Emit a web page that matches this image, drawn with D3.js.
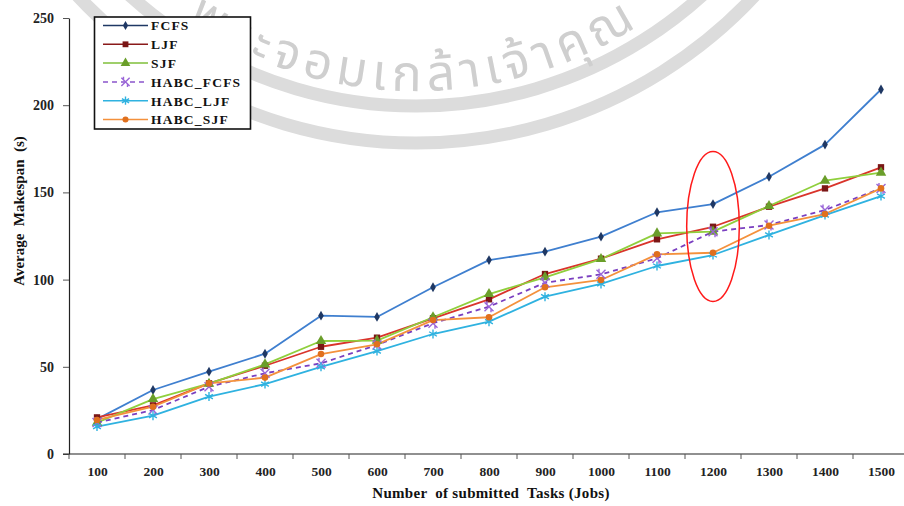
<!DOCTYPE html>
<html>
<head>
<meta charset="utf-8">
<script src="https://cdn.jsdelivr.net/npm/d3@7"></script>
<style>
  html, body { margin: 0; padding: 0; background: #fff; }
  svg { display: block; }
</style>
</head>
<body>
<svg id="chart" width="904" height="506"></svg>
<script>
// ---------------- data ----------------
const categories = [100, 200, 300, 400, 500, 600, 700, 800, 900, 1000, 1100, 1200, 1300, 1400, 1500];
const FCFS      = [20, 36.7, 47.2, 57.5, 79.3, 78.6, 95.6, 111.2, 116, 124.6, 138.6, 143.3, 159, 177.4, 209];
const LJF       = [21, 27.9, 40.5, 50.6, 61.5, 66.7, 77.8, 88.7, 103.2, 112, 123.1, 130.3, 141.8, 152.3, 164.4];
const SJF       = [18, 31.5, 40.3, 51.4, 64.8, 65, 78.4, 91.7, 101.3, 111.8, 126.5, 127.5, 142.2, 156.7, 161.3];
const HABC_FCFS = [18, 25.2, 38.6, 46.3, 52, 62.5, 75, 84.5, 98.2, 103, 112.2, 127.5, 131.3, 139.9, 152.3];
const HABC_LJF  = [15.7, 22, 32.9, 40.1, 50, 59, 68.8, 75.9, 90.2, 97.5, 107.8, 114.1, 125.6, 137, 147.9];
const HABC_SJF  = [19.5, 27.1, 40.5, 43.8, 57.3, 62.9, 76.8, 78.4, 95.6, 99.8, 114.5, 115.4, 130.9, 137.6, 152.3];
const seriesNames = ["FCFS", "LJF", "SJF", "HABC_FCFS", "HABC_LJF", "HABC_SJF"];
const yTicks = [0, 50, 100, 150, 200, 250];
const xTitle = "Number  of submitted  Tasks (Jobs)";
const yTitle = "Average  Makespan  (s)";
const highlightCategory = 1200;
const highlightRange = [87.5, 173.5];
const watermarkText = "พระจอมเกล้าเจ้าคุณ";

// ---------------- styles ----------------
const styles = {
  FCFS:      { line: "#3f7fcf", marker: "#1f3864", legendLine: "#1f3864", shape: "diamond", dash: null },
  LJF:       { line: "#d9342b", marker: "#7a1616", legendLine: "#8a1a1a", shape: "square", dash: null },
  SJF:       { line: "#8fcf3c", marker: "#6a9e2a", legendLine: "#7fbf3a", shape: "triangle", dash: null },
  HABC_FCFS: { line: "#7a3fc0", marker: "#9a66d8", legendLine: "#8a55cc", shape: "xmark", dash: "5,4" },
  HABC_LJF:  { line: "#2fb2e0", marker: "#2fb2e0", legendLine: "#2fb2e0", shape: "star", dash: null },
  HABC_SJF:  { line: "#f4913c", marker: "#e0701e", legendLine: "#f4913c", shape: "circle", dash: null }
};
const seriesData = { FCFS, LJF, SJF, HABC_FCFS, HABC_LJF, HABC_SJF };

const svg = d3.select("#chart");
const W = 904, H = 506;
const mLeft = 69, mBottom = 454, mTop = 18, mRight = 909;
const fontFam = "'Liberation Serif', 'Times New Roman', serif";

// ---------------- watermark ----------------
const wm = svg.append("g").attr("class", "watermark");
const wcx = 416, wcy = -319;
const deg = Math.PI / 180;
function arcPath(r, a0, a1) {
  const p = d3.path();
  p.arc(wcx, wcy, r, a0, a1, true);
  return p.toString();
}
wm.append("path")
  .attr("d", arcPath(462, 150 * deg, 30 * deg))
  .attr("fill", "none").attr("stroke", "#dcdcdc").attr("stroke-width", 13);
wm.append("path")
  .attr("d", arcPath(425, 150 * deg, 30 * deg))
  .attr("fill", "none").attr("stroke", "#dcdcdc").attr("stroke-width", 13);
wm.append("path").attr("id", "wmTextPath")
  .attr("d", arcPath(410, 124 * deg, 40 * deg))
  .attr("fill", "none").attr("stroke", "none");
wm.append("text")
  .attr("font-family", "'Noto Sans Thai', 'Noto Sans', 'DejaVu Sans', sans-serif")
  .attr("font-size", 50)
  .attr("fill", "#cfcfcf")
  .attr("letter-spacing", 6)
  .append("textPath")
  .attr("href", "#wmTextPath")
  .attr("startOffset", 0)
  .text(watermarkText);

// ---------------- scales ----------------
const x = d3.scalePoint().domain(categories).range([mLeft, mRight]).padding(0.5);
const step = x.step();
const y = d3.scaleLinear().domain([0, 250]).range([mBottom, mTop]);

// ---------------- axes ----------------
const yAxis = d3.axisLeft(y).tickValues(yTicks).tickSize(6).tickPadding(9).tickSizeOuter(0);
const gy = svg.append("g").attr("transform", `translate(${mLeft},0)`).call(yAxis);
gy.select(".domain").attr("stroke", "#222").attr("stroke-width", 1.2);
gy.selectAll(".tick line").attr("stroke", "#555");
gy.selectAll(".tick text").attr("font-family", fontFam).attr("font-weight", "bold")
  .attr("font-size", 14).attr("fill", "#222");

const xAxis = d3.axisBottom(x).tickSize(0).tickPadding(12);
const gx = svg.append("g").attr("transform", `translate(0,${mBottom})`).call(xAxis);
gx.select(".domain").remove();
gx.selectAll(".tick text").attr("font-family", fontFam).attr("font-weight", "bold")
  .attr("font-size", 13.5).attr("fill", "#222");
gx.append("line").attr("x1", mLeft - 6).attr("x2", W).attr("y1", 0).attr("y2", 0)
  .attr("stroke", "#222").attr("stroke-width", 1.2);
gx.selectAll(".sep").data(categories).enter().append("line")
  .attr("x1", d => x(d) + step / 2).attr("x2", d => x(d) + step / 2)
  .attr("y1", 0).attr("y2", 5).attr("stroke", "#555");
gx.append("line").attr("x1", mLeft).attr("x2", mLeft).attr("y1", 0).attr("y2", 5).attr("stroke", "#555");

// axis titles
svg.append("text")
  .attr("x", 491).attr("y", 498)
  .attr("text-anchor", "middle")
  .attr("font-family", fontFam).attr("font-weight", "bold").attr("font-size", 15)
  .attr("letter-spacing", 0.3)
  .attr("fill", "#111").style("white-space", "pre")
  .text(xTitle);
svg.append("text")
  .attr("transform", "translate(24,211) rotate(-90)")
  .attr("text-anchor", "middle")
  .attr("font-family", fontFam).attr("font-weight", "bold").attr("font-size", 15)
  .attr("fill", "#111").style("white-space", "pre")
  .text(yTitle);

// ---------------- markers ----------------
function drawMarker(g, shape, color, px, py, scale) {
  const s = scale || 1;
  if (shape === "diamond") {
    g.append("path").attr("d", d3.symbol(d3.symbolDiamond, 28 * s)())
      .attr("transform", `translate(${px},${py})`).attr("fill", color);
  } else if (shape === "square") {
    g.append("path").attr("d", d3.symbol(d3.symbolSquare, 40 * s)())
      .attr("transform", `translate(${px},${py})`).attr("fill", color);
  } else if (shape === "triangle") {
    g.append("path").attr("d", d3.symbol(d3.symbolTriangle, 48 * s)())
      .attr("transform", `translate(${px},${py})`).attr("fill", color);
  } else if (shape === "circle") {
    g.append("path").attr("d", d3.symbol(d3.symbolCircle, 34 * s)())
      .attr("transform", `translate(${px},${py})`).attr("fill", color);
  } else if (shape === "star") {
    const r = 4.5 * Math.sqrt(s);
    const p = d3.path();
    for (let k = 0; k < 3; k++) {
      const a = Math.PI / 2 + k * Math.PI / 3;
      p.moveTo(px + r * Math.cos(a), py + r * Math.sin(a));
      p.lineTo(px - r * Math.cos(a), py - r * Math.sin(a));
    }
    g.append("path").attr("d", p.toString()).attr("stroke", color).attr("stroke-width", 1.4).attr("fill", "none");
  } else if (shape === "xmark") {
    const r = 4.5 * Math.sqrt(s);
    const p = d3.path();
    p.moveTo(px - r, py - r); p.lineTo(px + r, py + r);
    p.moveTo(px + r, py - r); p.lineTo(px - r, py + r);
    p.moveTo(px - 2, py - r - 1); p.lineTo(px - 2, py - r + 2);
    p.moveTo(px + 2, py + r + 1); p.lineTo(px + 2, py + r - 2);
    g.append("path").attr("d", p.toString()).attr("stroke", color).attr("stroke-width", 1.4).attr("fill", "none");
  }
}

// ---------------- series ----------------
const line = d3.line().x((d, i) => x(categories[i])).y(d => y(d));
const plot = svg.append("g");
seriesNames.forEach(name => {
  const st = styles[name];
  const vals = seriesData[name];
  plot.append("path").datum(vals).attr("d", line)
    .attr("fill", "none").attr("stroke", st.line).attr("stroke-width", 1.8)
    .attr("stroke-dasharray", st.dash).attr("stroke-linejoin", "round");
});
seriesNames.forEach(name => {
  const st = styles[name];
  const vals = seriesData[name];
  const g = plot.append("g");
  vals.forEach((v, i) => drawMarker(g, st.shape, st.marker, x(categories[i]), y(v)));
});

// ---------------- highlight ellipse ----------------
svg.append("ellipse")
  .attr("cx", x(highlightCategory))
  .attr("cy", (y(highlightRange[0]) + y(highlightRange[1])) / 2)
  .attr("rx", step * 0.47)
  .attr("ry", (y(highlightRange[0]) - y(highlightRange[1])) / 2)
  .attr("fill", "none").attr("stroke", "#ff1a1a").attr("stroke-width", 1.5);

// ---------------- legend ----------------
const lg = svg.append("g");
lg.append("rect").attr("x", 94.5).attr("y", 17).attr("width", 156).attr("height", 112)
  .attr("fill", "#fff").attr("stroke", "#111").attr("stroke-width", 1.6);
seriesNames.forEach((name, i) => {
  const st = styles[name];
  const ry = 25.5 + i * 18.8;
  lg.append("line").attr("x1", 103).attr("x2", 148).attr("y1", ry).attr("y2", ry)
    .attr("stroke", st.legendLine)
    .attr("stroke-width", 1.5).attr("stroke-dasharray", st.dash);
  drawMarker(lg, st.shape, st.marker, 125.5, ry, 0.85);
  lg.append("text").attr("x", 151).attr("y", ry + 4.8)
    .attr("font-family", fontFam).attr("font-weight", "bold").attr("font-size", 13.5)
    .attr("letter-spacing", 1.2).attr("fill", "#111").text(name);
});
</script>
</body>
</html>
